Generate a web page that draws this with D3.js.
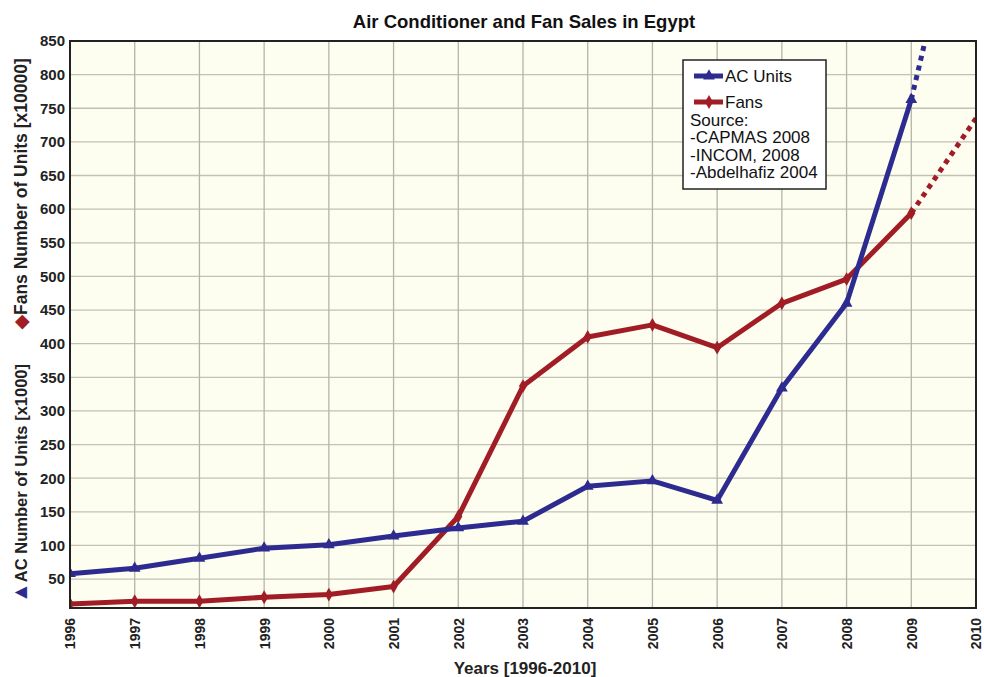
<!DOCTYPE html>
<html>
<head>
<meta charset="utf-8">
<script src="https://cdn.jsdelivr.net/npm/d3@7"></script>
<style>
  html, body { margin: 0; padding: 0; background: #ffffff; }
  svg { display: block; font-family: "Liberation Sans", Arial, Helvetica, sans-serif; }
</style>
</head>
<body>
<svg id="chart" width="984" height="677"></svg>
<script>
// ---- data ----
const years = [1996, 1997, 1998, 1999, 2000, 2001, 2002, 2003, 2004, 2005, 2006, 2007, 2008, 2009];
const acUnits = [58, 66, 81, 96, 101, 114, 126, 136, 188, 196, 167, 334, 460, 763];
const fans = [13, 17, 17, 23, 27, 39, 143, 337, 410, 428, 394, 460, 496, 594];
const projYears = [2009, 2010];
const acProjection = [763, 1170];
const fansProjection = [594, 735];
const xTicks = [1996, 1997, 1998, 1999, 2000, 2001, 2002, 2003, 2004, 2005, 2006, 2007, 2008, 2009, 2010];
const yTicks = [50, 100, 150, 200, 250, 300, 350, 400, 450, 500, 550, 600, 650, 700, 750, 800, 850];
const legendSeries = ["AC Units", "Fans"];
const sourceLines = ["Source:", "-CAPMAS 2008", "-INCOM, 2008", "-Abdelhafiz 2004"];

const blue = "#2d2b8f";
const red = "#a11d26";

const svg = d3.select("#chart");
const pLeft = 70, pRight = 976, pTop = 41, pBottom = 608;

const x = d3.scaleLinear().domain([1996, 2010]).range([pLeft, pRight]);
const y = d3.scaleLinear().domain([7, 850]).range([pBottom, pTop]);

// background
svg.append("rect").attr("x", pLeft).attr("y", pTop).attr("width", pRight - pLeft).attr("height", pBottom - pTop)
  .attr("fill", "#fdfdf0");

// grid
svg.append("g").selectAll("line").data(yTicks).join("line")
  .attr("x1", pLeft).attr("x2", pRight).attr("y1", d => y(d)).attr("y2", d => y(d))
  .attr("stroke", "#c2c2b4").attr("stroke-width", 1.3);
svg.append("g").selectAll("line").data(xTicks).join("line")
  .attr("x1", d => x(d)).attr("x2", d => x(d)).attr("y1", pTop).attr("y2", pBottom)
  .attr("stroke", "#b4b4a8").attr("stroke-width", 1.3);

// clip
svg.append("clipPath").attr("id", "clip").append("rect")
  .attr("x", pLeft).attr("y", pTop).attr("width", pRight - pLeft).attr("height", pBottom - pTop);

const plot = svg.append("g").attr("clip-path", "url(#clip)");
const line = d3.line().x(d => x(d[0])).y(d => y(d[1]));

// projections (dotted)
plot.append("path").datum(d3.zip(projYears, fansProjection)).attr("d", line)
  .attr("fill", "none").attr("stroke", red).attr("stroke-width", 5).attr("stroke-dasharray", "5,5");
plot.append("path").datum(d3.zip(projYears, acProjection)).attr("d", line)
  .attr("fill", "none").attr("stroke", blue).attr("stroke-width", 5).attr("stroke-dasharray", "5,5");

// series lines
plot.append("path").datum(d3.zip(years, fans)).attr("d", line)
  .attr("fill", "none").attr("stroke", red).attr("stroke-width", 5).attr("stroke-linejoin", "round");
plot.append("path").datum(d3.zip(years, acUnits)).attr("d", line)
  .attr("fill", "none").attr("stroke", blue).attr("stroke-width", 5).attr("stroke-linejoin", "round");

// markers
const tri = d3.symbol().type(d3.symbolTriangle).size(60);
const dia = d3.symbol().type(d3.symbolDiamond).size(55);
plot.append("g").selectAll("path").data(d3.zip(years, fans)).join("path")
  .attr("d", dia).attr("transform", d => `translate(${x(d[0])},${y(d[1])})`).attr("fill", red);
plot.append("g").selectAll("path").data(d3.zip(years, acUnits)).join("path")
  .attr("d", tri).attr("transform", d => `translate(${x(d[0])},${y(d[1])})`).attr("fill", blue);

// frame
svg.append("rect").attr("x", pLeft).attr("y", pTop).attr("width", pRight - pLeft).attr("height", pBottom - pTop)
  .attr("fill", "none").attr("stroke", "#222").attr("stroke-width", 2);

// y axis
const yAxis = d3.axisLeft(y).tickValues(yTicks).tickSize(0).tickPadding(5).tickFormat(d3.format("d"));
const yg = svg.append("g").attr("transform", `translate(${pLeft},0)`).call(yAxis);
yg.select(".domain").remove();
yg.selectAll("text").attr("font-size", 15).attr("font-weight", "bold").attr("fill", "#222")
  .attr("font-family", "'Liberation Sans', Arial, sans-serif");

// x axis
const xAxis = d3.axisBottom(x).tickValues(xTicks).tickSize(0).tickFormat(d3.format("d"));
const xg = svg.append("g").attr("transform", `translate(0,${pBottom})`).call(xAxis);
xg.select(".domain").remove();
xg.selectAll("text")
  .attr("transform", "rotate(-90)")
  .attr("x", -10).attr("y", 0).attr("dy", "0.35em")
  .attr("text-anchor", "end")
  .attr("font-size", 14).attr("font-weight", "bold").attr("fill", "#222")
  .attr("font-family", "'Liberation Sans', Arial, sans-serif");

// titles
svg.append("text").attr("x", 524).attr("y", 28).attr("text-anchor", "middle")
  .attr("font-size", 18.5).attr("font-weight", "bold").attr("fill", "#111")
  .text("Air Conditioner and Fan Sales in Egypt");
svg.append("text").attr("x", 525).attr("y", 674).attr("text-anchor", "middle")
  .attr("font-size", 17).attr("font-weight", "bold").attr("fill", "#222")
  .text("Years [1996-2010]");

// y titles (rotated)
const yt1 = svg.append("text").attr("transform", "translate(27,603) rotate(-90)")
  .attr("text-anchor", "start").attr("font-size", 16.5).attr("font-weight", "bold").attr("fill", "#222");
yt1.append("tspan").attr("fill", blue).attr("font-size", 21).text("▲");
yt1.append("tspan").text("AC Number of Units [x1000]");
const yt2 = svg.append("text").attr("transform", "translate(27,329) rotate(-90)")
  .attr("text-anchor", "start").attr("font-size", 17.5).attr("font-weight", "bold").attr("fill", "#222");
yt2.append("tspan").attr("fill", red).text("◆");
yt2.append("tspan").text("Fans Number of Units [x10000]");

// legend
const lg = svg.append("g").attr("transform", "translate(683,60)");
lg.append("rect").attr("width", 143).attr("height", 129).attr("fill", "#fff")
  .attr("stroke", "#222").attr("stroke-width", 1.5);
const legColors = [blue, red];
const legSyms = [d3.symbol().type(d3.symbolTriangle).size(60), d3.symbol().type(d3.symbolDiamond).size(55)];
legendSeries.forEach((name, i) => {
  const yy = 16 + i * 26;
  lg.append("line").attr("x1", 11).attr("x2", 40).attr("y1", yy).attr("y2", yy)
    .attr("stroke", legColors[i]).attr("stroke-width", 5);
  lg.append("path").attr("d", legSyms[i]).attr("transform", `translate(26,${yy})`).attr("fill", legColors[i]);
  lg.append("text").attr("x", 42).attr("y", yy + 6).attr("font-size", 17).attr("fill", "#111").text(name);
});
sourceLines.forEach((t, i) => {
  lg.append("text").attr("x", 7).attr("y", 66 + i * 17.3).attr("font-size", 17).attr("fill", "#111").text(t);
});
</script>
</body>
</html>
